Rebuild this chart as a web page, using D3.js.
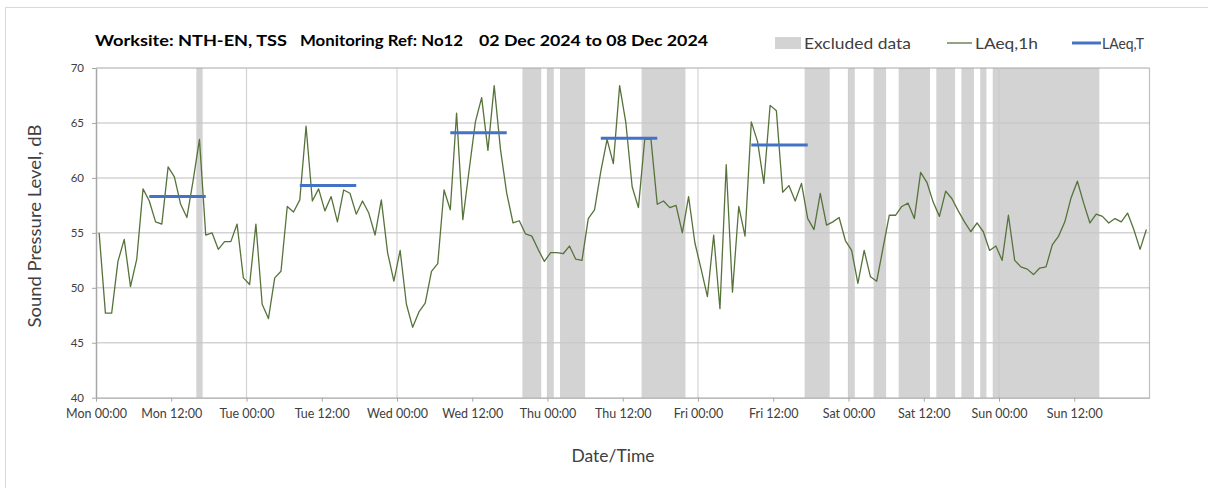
<!DOCTYPE html>
<html>
<head>
<meta charset="utf-8">
<script src="https://cdn.jsdelivr.net/npm/d3@7"></script>
<style>
  html, body { margin: 0; padding: 0; background: #fff; }
  svg { display: block; font-family: Lato, "Open Sans", sans-serif; }
</style>
</head>
<body>
<svg id="chart" width="1208" height="488"></svg>
<script>
// Hourly LAeq,1h values, Mon 00:00 .. Sun 23:00 (168 hours)
const laeq1h = [
  55.0, 47.7, 47.7, 52.4, 54.4, 50.1, 52.6, 59.0, 57.9, 56.0,
  55.8, 61.0, 60.1, 57.6, 56.4, 59.8, 63.5, 54.8, 55.0, 53.5,
  54.2, 54.2, 55.8, 50.9, 50.3, 55.8, 48.5, 47.2, 50.9, 51.5,
  57.4, 56.9, 58.0, 64.7, 57.9, 59.0, 57.0, 58.3, 56.0, 58.9,
  58.6, 56.7, 57.9, 56.8, 54.8, 58.0, 53.2, 50.6, 53.4, 48.5,
  46.4, 47.8, 48.6, 51.5, 52.2, 58.9, 57.1, 65.9, 56.2, 60.7,
  65.1, 67.3, 62.5, 68.4, 62.6, 58.6, 55.9, 56.1, 54.9, 54.7,
  53.5, 52.4, 53.2, 53.2, 53.1, 53.8, 52.6, 52.5, 56.3, 57.1,
  60.6, 63.5, 61.3, 68.4, 65.0, 59.2, 57.3, 63.5, 63.5, 57.6,
  57.9, 57.3, 57.5, 55.0, 58.3, 54.1, 51.7, 49.2, 54.8, 48.1,
  61.2, 49.6, 57.4, 54.7, 65.1, 63.3, 59.5, 66.6, 66.1, 58.7,
  59.3, 57.9, 59.5, 56.3, 55.3, 58.6, 55.7, 56.0, 56.4, 54.3,
  53.4, 50.4, 53.4, 51.0, 50.6, 53.6, 56.6, 56.6, 57.4, 57.7,
  56.3, 60.5, 59.6, 57.8, 56.5, 58.8, 58.1, 57.0, 56.0, 55.1,
  55.9, 55.1, 53.4, 53.8, 52.5, 56.6, 52.5, 51.9, 51.7, 51.2,
  51.8, 51.9, 53.9, 54.7, 56.0, 58.2, 59.7, 57.7, 55.9, 56.7,
  56.5, 55.9, 56.3, 56.0, 56.8, 55.3, 53.5, 55.3
];

// Daytime LAeq,T periods (hour index of first and last hour) and levels
const laeqTStart = [8, 32, 56, 80, 104];
const laeqTEnd   = [17, 41, 65, 89, 113];
const laeqTValue = [58.3, 59.3, 64.1, 63.6, 63.0];

// Hours flagged as excluded data
const excludedHours = [
  16,
  68, 69, 70, 72, 74, 75, 76, 77,
  87, 88, 89, 90, 91, 92, 93,
  113, 114, 115, 116, 120, 124, 125,
  128, 129, 130, 131, 132, 134, 135, 136,
  138, 139, 141,
  143, 144, 145, 146, 147, 148, 149, 150, 151, 152, 153, 154, 155, 156, 157, 158, 159
];

// Axis tick labels (every 12 hours) and y ticks
const xTickLabels = [
  "Mon 00:00", "Mon 12:00", "Tue 00:00", "Tue 12:00", "Wed 00:00", "Wed 12:00", "Thu 00:00",
  "Thu 12:00", "Fri 00:00", "Fri 12:00", "Sat 00:00", "Sat 12:00", "Sun 00:00", "Sun 12:00"
];
const yTicks = [40, 45, 50, 55, 60, 65, 70];

const title = ["Worksite: NTH-EN, TSS", "Monitoring Ref: No12", "02 Dec 2024 to 08 Dec 2024"];

const svg = d3.select("#chart");
const plot = { left: 96, right: 1149.5, top: 68, bottom: 397.7 };
const nHours = laeq1h.length;

// Hour boundaries scale; an hour h is centred at h + 0.5
const x = d3.scaleLinear().domain([0, nHours]).range([plot.left, plot.right]);
const y = d3.scaleLinear().domain([40, 70]).range([plot.bottom, plot.top]);

// Outer chart frame
svg.append("rect")
  .attr("x", 5.5).attr("y", 7.5).attr("width", 1230).attr("height", 500)
  .attr("fill", "#fff").attr("stroke", "#d9d9d9").attr("stroke-width", 1);

// Excluded-data columns: adjacent hours are joined into one block so no seams show
const excludedRuns = [];
excludedHours.forEach(h => {
  const last = excludedRuns[excludedRuns.length - 1];
  if (last && last.end === h) last.end = h + 1;
  else excludedRuns.push({ start: h, end: h + 1 });
});
svg.append("g").selectAll("rect").data(excludedRuns).join("rect")
  .attr("x", d => x(d.start))
  .attr("width", d => x(d.end) - x(d.start))
  .attr("y", y(70))
  .attr("height", y(40) - y(70))
  .attr("fill", "#d3d3d3");

// Horizontal gridlines
svg.append("g").selectAll("line").data(yTicks.filter(v => v > 40)).join("line")
  .attr("x1", plot.left).attr("x2", plot.right)
  .attr("y1", d => y(d)).attr("y2", d => y(d))
  .attr("stroke", d => d === 70 ? "#a6a6a6" : "#c8c8c8")
  .attr("stroke-opacity", d => d === 70 ? 1 : 0.8)
  .attr("stroke-width", d => d === 70 ? 1 : 1.5);

// Vertical gridlines at midnight
const dayTicks = d3.range(24, nHours + 1, 24);
svg.append("g").selectAll("line").data(dayTicks).join("line")
  .attr("x1", d => x(d)).attr("x2", d => x(d))
  .attr("y1", plot.top).attr("y2", plot.bottom)
  .attr("stroke", d => d === nHours ? "#b0b0b0" : "#c8c8c8")
  .attr("stroke-opacity", 0.8)
  .attr("stroke-width", 1.2);

// X axis
const xAxis = d3.axisBottom(x)
  .tickValues(d3.range(0, nHours, 12))
  .tickFormat((d, i) => xTickLabels[i])
  .tickSizeOuter(0)
  .tickSizeInner(4)
  .tickPadding(7);
const gx = svg.append("g").attr("transform", `translate(0,${plot.bottom})`).call(xAxis);
gx.select(".domain").attr("stroke", "#a6a6a6").attr("stroke-width", 1.2);
gx.selectAll(".tick line").attr("stroke", "#a6a6a6");
gx.selectAll(".tick text").attr("fill", "#404040").attr("font-size", 12.5)
  .attr("font-family", "Lato, sans-serif");

// Y axis
const yAxis = d3.axisLeft(y).tickValues(yTicks).tickSizeOuter(0).tickSizeInner(4).tickPadding(8);
const gy = svg.append("g").attr("transform", `translate(${plot.left},0)`).call(yAxis);
gy.select(".domain").attr("stroke", "#a6a6a6").attr("stroke-width", 1.5);
gy.selectAll(".tick line").attr("stroke", "#a6a6a6");
gy.selectAll(".tick text").attr("fill", "#404040").attr("font-size", 11.5)
  .attr("font-family", "Lato, sans-serif");

// LAeq,1h line
const line = d3.line().x((d, i) => x(i + 0.5)).y(d => y(d));
svg.append("path").datum(laeq1h)
  .attr("d", line)
  .attr("fill", "none")
  .attr("stroke", "#56733a")
  .attr("stroke-width", 1.3)
  .attr("stroke-linejoin", "round");

// LAeq,T period lines
svg.append("g").selectAll("line").data(laeqTValue).join("line")
  .attr("x1", (d, i) => x(laeqTStart[i] + 0.5))
  .attr("x2", (d, i) => x(laeqTEnd[i] + 0.5))
  .attr("y1", d => y(d)).attr("y2", d => y(d))
  .attr("stroke", "#4472c4")
  .attr("stroke-width", 3);

// Title
const titleX = [95, 300, 479];
const titleW = [192, 163, 229];
svg.append("g").selectAll("text").data(title).join("text")
  .attr("x", (d, i) => titleX[i]).attr("y", 46)
  .attr("textLength", (d, i) => titleW[i])
  .attr("lengthAdjust", "spacingAndGlyphs")
  .attr("font-size", 15.5).attr("font-weight", "bold").attr("fill", "#000")
  .text(d => d);

// Legend
const legend = svg.append("g").attr("font-size", 16).attr("fill", "#404040");
legend.append("rect").attr("x", 775).attr("y", 37).attr("width", 26).attr("height", 12).attr("fill", "#d3d3d3");
legend.append("text").attr("x", 804).attr("y", 49)
  .attr("textLength", 107).attr("lengthAdjust", "spacingAndGlyphs").text("Excluded data");
legend.append("line").attr("x1", 947).attr("x2", 972).attr("y1", 43).attr("y2", 43)
  .attr("stroke", "#56733a").attr("stroke-width", 1.3);
legend.append("text").attr("x", 975).attr("y", 49)
  .attr("textLength", 63).attr("lengthAdjust", "spacingAndGlyphs").text("LAeq,1h");
legend.append("line").attr("x1", 1072).attr("x2", 1101).attr("y1", 43).attr("y2", 43)
  .attr("stroke", "#4472c4").attr("stroke-width", 3);
legend.append("text").attr("x", 1102).attr("y", 49)
  .attr("textLength", 42).attr("lengthAdjust", "spacingAndGlyphs").text("LAeq,T");

// Axis titles
svg.append("text")
  .attr("transform", "translate(41,226) rotate(-90)")
  .attr("text-anchor", "middle").attr("font-size", 16.5).attr("fill", "#404040")
  .attr("textLength", 203).attr("lengthAdjust", "spacingAndGlyphs")
  .text("Sound Pressure Level, dB");
svg.append("text")
  .attr("x", 613).attr("y", 462)
  .attr("text-anchor", "middle").attr("font-size", 16.5).attr("fill", "#404040")
  .attr("textLength", 83).attr("lengthAdjust", "spacingAndGlyphs")
  .text("Date/Time");
</script>
</body>
</html>
